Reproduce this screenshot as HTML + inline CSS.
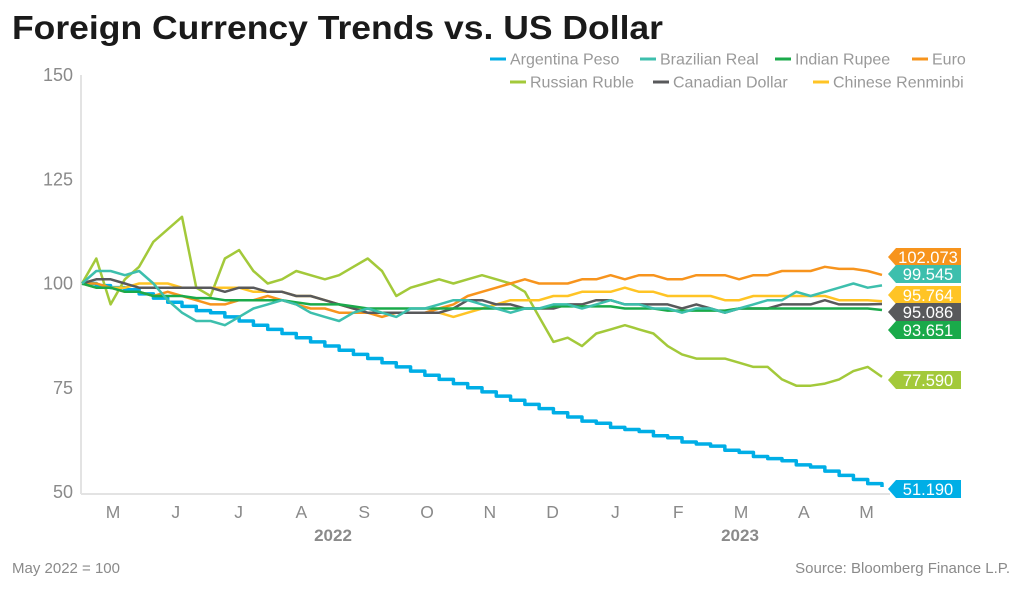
<!DOCTYPE html>
<html><head><meta charset="utf-8"><style>
body{margin:0;background:#fff;font-family:"Liberation Sans",sans-serif}
svg{display:block}
</style></head><body>
<svg id="c" width="1024" height="590">
<text x="12" y="39" font-size="33" font-weight="bold" fill="#1a1a1a" textLength="651" lengthAdjust="spacingAndGlyphs">Foreign Currency Trends vs. US Dollar</text>
<line x1="81" y1="75" x2="81" y2="494" stroke="#e3e3e3" stroke-width="2"/>
<line x1="81" y1="494" x2="890" y2="494" stroke="#e3e3e3" stroke-width="2"/>
<g id="yt"></g><g id="xt"></g><g id="series"></g><g id="tags"></g><g id="legend"></g>
<text x="333" y="541" font-size="17" font-weight="bold" fill="#8a8a8a" text-anchor="middle">2022</text>
<text x="740" y="541" font-size="17" font-weight="bold" fill="#8a8a8a" text-anchor="middle">2023</text>
<text x="12" y="573" font-size="15" fill="#8a8a8a">May 2022 = 100</text>
<text x="1010" y="573" font-size="15" fill="#8a8a8a" text-anchor="end">Source: Bloomberg Finance L.P.</text>
</svg>
<script>
const yTicks=[50,75,100,125,150];
const months=["M","J","J","A","S","O","N","D","J","F","M","A","M"];
const names=["Argentina Peso","Brazilian Real","Indian Rupee","Euro","Russian Ruble","Canadian Dollar","Chinese Renminbi"];
const colors=["#00aee6","#3dbfad","#1aaa4a","#f7941d","#a3c93a","#58595b","#ffc425"];
const finalLabels=["51.190","99.545","93.651","102.073","77.590","95.086","95.764"];
const ars=[100,99.5,99,98.5,97.5,96.5,95.5,94.5,93.5,93,92,91,90,89,88,87,86,85,84,83,82,81,80,79,78,77,76,75,74,73,72,71,70,69,68,67,66.5,65.5,65,64.5,63.5,63,62,61.5,61,60,59.5,58.5,58,57.5,56.5,56,55,54,53,52,51.19];
const brl=[100,103,103,102,103,100,96,93,91,91,90,92,94,95,96,95,93,92,91,93,94,93,92,94,94,95,96,96,95,94,93,94,94,95,95,94,95,96,95,95,94,94,93,94,94,93,94,95,96,96,98,97,98,99,100,99,99.545];
const inr=[100,99,99,98,98,97,97,97,96.5,96.5,96,96,96,96,96,95.5,95,95,95,94.5,94,94,94,94,94,94,94,94,94,94,94,94,94,94.5,94.5,94.5,94.5,94.5,94,94,94,93.5,93.5,93.5,93.5,93.5,94,94,94,94,94,94,94,94,94,94,93.651];
const eur=[100,100,99,98,98,97,98,97,96,95,95,96,96,97,96,95,94,94,93,93,93,92,93,93,93,94,95,97,98,99,100,101,100,100,100,101,101,102,101,102,102,101,101,102,102,102,101,102,102,103,103,103,104,103.5,103.5,103,102.073];
const rub=[100,106,95,101,104,110,113,116,99,97,106,108,103,100,101,103,102,101,102,104,106,103,97,99,100,101,100,101,102,101,100,98,92,86,87,85,88,89,90,89,88,85,83,82,82,82,81,80,80,77,75.5,75.5,76,77,79,80,77.59];
const cad=[100,101,101,100,99,99,99,99,99,99,98,99,99,98,98,97,97,96,95,94,93,93,93,93,93,93,94,96,96,95,95,94,94,94,95,95,96,96,95,95,95,95,94,95,94,93,94,94,94,95,95,95,96,95,95,95,95.086];
const cny=[100,99,99,99,100,100,100,99,99,99,99,99,98,98,98,97,97,96,95,94,94,93,93,93,93,93,92,93,94,95,96,96,96,97,97,98,98,98,99,98,98,97,97,97,97,96,96,97,97,97,97,97,97,96,96,96,95.764];
const data=[ars,brl,inr,eur,rub,cad,cny];
const NS="http://www.w3.org/2000/svg";
const X=i=>82+i*(800/56);
const Y=v=>492-(v-50)*(417/100);
function mk(t,a,p){const e=document.createElementNS(NS,t);for(const k in a)e.setAttribute(k,a[k]);p.appendChild(e);return e;}
const yt=document.getElementById('yt');
yTicks.forEach(v=>{const t=mk('text',{x:73,y:Y(v)+6,'font-size':18,fill:'#8a8a8a','text-anchor':'end'},yt);t.textContent=v;

});
const xt=document.getElementById('xt');
months.forEach((m,i)=>{const t=mk('text',{x:113+i*62.8,y:518,'font-size':17.5,fill:'#8a8a8a','text-anchor':'middle'},xt);t.textContent=m;

});
const sg=document.getElementById('series');
const order=[0,4,3,6,5,2,1];
order.forEach(s=>{const d=data[s];let p;
if(s===0){p='M'+X(0)+','+Y(d[0]);for(let i=1;i<d.length;i++)p+=' H'+X(i)+' V'+Y(d[i]);}
else p=d.map((v,i)=>(i?'L':'M')+X(i).toFixed(1)+','+Y(v).toFixed(1)).join(' ');
const e=mk('path',{d:p,fill:'none',stroke:colors[s],'stroke-width':s===0?3.5:2.5,'stroke-linejoin':'round'},sg);

});
const tg=document.getElementById('tags');
const tagY=[489,274,330,257,380,312,295];
[3,1,6,5,2,4,0].forEach(s=>{const cy=tagY[s];const g=mk('g',{},tg);


mk('path',{d:`M888,${cy} L896,${cy-9} H961 V${cy+9} H896 Z`,fill:colors[s]},g);
const t=mk('text',{x:928,y:cy+6,'font-size':16.5,fill:'#fff','text-anchor':'middle'},g);t.textContent=finalLabels[s];});
const lg=document.getElementById('legend');
const L=[[490,59,0],[640,59,1],[775,59,2],[912,59,3],[510,82,4],[653,82,5],[813,82,6]];
L.forEach(([x,y,s])=>{const g=mk('g',{},lg);


mk('line',{x1:x,y1:y,x2:x+16,y2:y,stroke:colors[s],'stroke-width':3},g);
const t=mk('text',{x:x+20,y:y+5.5,'font-size':16,fill:'#999'},g);t.textContent=names[s];});
</script>
</body></html>
